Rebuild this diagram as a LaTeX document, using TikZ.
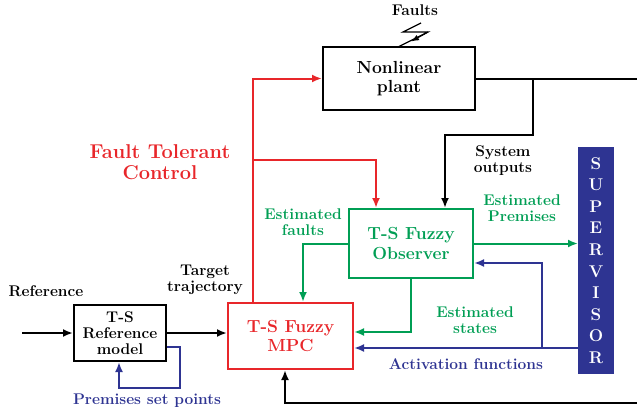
\documentclass[tikz,border=0pt]{standalone}
\usepackage{tikz}
\usetikzlibrary{positioning}
\usetikzlibrary{arrows.meta}

\definecolor{ftred}{RGB}{232,38,42}
\definecolor{obsgreen}{RGB}{0,158,84}
\definecolor{supblue}{RGB}{46,52,146}

\begin{document}
\begin{tikzpicture}[x=1pt, y=-1pt, >={Latex[length=10pt,width=8pt]}, line width=2pt,
        block/.style={rectangle, draw=black, line width=2pt, align=center, font=\fontsize{17.5}{19.5}\selectfont\bfseries},
        note/.style={align=center, font=\fontsize{15.5}{16}\selectfont\bfseries},
        ftc/.style={align=center, text=ftred, font=\fontsize{20}{21}\selectfont\bfseries},
        supervisor/.style={rectangle, draw=supblue, fill=supblue, text=white, align=center, minimum width=34pt, minimum height=225pt, font=\fontsize{17}{21.6}\selectfont\bfseries}
      ]
        \clip (0,0) rectangle (637,412);

        \node[block, minimum width=152pt, minimum height=62pt]                 (plant)    at (399,78.5)   {Nonlinear\\plant};
        \node[block, draw=obsgreen, text=obsgreen, minimum width=124pt, minimum height=69pt] (observer) at (411,243.5) {T-S Fuzzy\\Observer};
        \node[block, draw=ftred, text=ftred, minimum width=125pt, minimum height=66pt]        (mpc)      at (290.5,336)  {T-S Fuzzy\\MPC};
        \node[block, minimum width=92pt, minimum height=56pt, inner sep=1pt, font=\fontsize{15.5}{16}\selectfont\bfseries] (refmodel) at (120,333) {T-S\\Reference\\model};
        \node[supervisor]                                                       (sup)      at (596,260.5)  {S\\U\\P\\E\\R\\V\\I\\S\\O\\R};

        \node[note]                 (faults)   at (415,10)   {Faults};
        \node[note]                 (sysout)   at (503,161)  {System\\outputs};
        \node[note, text=obsgreen]  (estprem)  at (522,208)  {Estimated\\Premises};
        \node[note, text=obsgreen]  (estfault) at (303,222)  {Estimated\\faults};
        \node[note, text=obsgreen]  (eststate) at (475,320)  {Estimated\\states};
        \node[note, text=supblue]   (actfun)   at (466,364)  {Activation functions};
        \node[note]                 (refin)    at (46,291)   {Reference};
        \node[note]                 (target)   at (205,280)  {Target\\trajectory};
        \node[note, text=supblue]   (premset)  at (147,401)  {Premises set points};
        \node[ftc]                  (ftcl)     at (160,162)  {Fault Tolerant\\Control};

        \coordinate (ybranch) at (533,78.5);
        \coordinate (fbright) at (650,78.5);
        \coordinate (refstart) at (22,333);

        % faults acting on the plant
        \draw[line width=1.2pt] (421,23) -- (403,32) -- (428,32) -- (plant.north);
        \draw[-{Latex[length=8pt,width=6pt]}, line width=1.2pt] (428,32) -- (411,41.5);

        % plant outputs
        \draw[->] (plant.east) -- (fbright) |- (285,403) -- (mpc.south -| 285,0);
        \draw[->] (ybranch) |- (445,135) -- (observer.north -| 445,0);

        % control signal
        \draw[->, ftred] (mpc.north -| 253,0) |- (plant.west);
        \draw[->, ftred] (253,160) -| (observer.north -| 376,0);

        % observer estimates
        \draw[->, obsgreen] (observer.west) -| (mpc.north -| 303,0);
        \draw[->, obsgreen] (observer.south) |- (mpc.east |- 0,332);
        \draw[->, obsgreen] (observer.east) -- (sup.west |- observer.east);

        % activation functions
        \draw[->, supblue] (sup.west |- 0,348) -- (mpc.east |- 0,348);
        \draw[->, supblue] (542,348) |- (observer.east |- 0,263);

        % reference path
        \draw[->] (refstart) -- (refmodel.west);
        \draw[->] (refmodel.east) -- (mpc.west |- refmodel.east);
        \draw[->, supblue] (refmodel.east |- 0,347) -| (180,388) -| (refmodel.south -| 119,0);
      \end{tikzpicture}
\end{document}
